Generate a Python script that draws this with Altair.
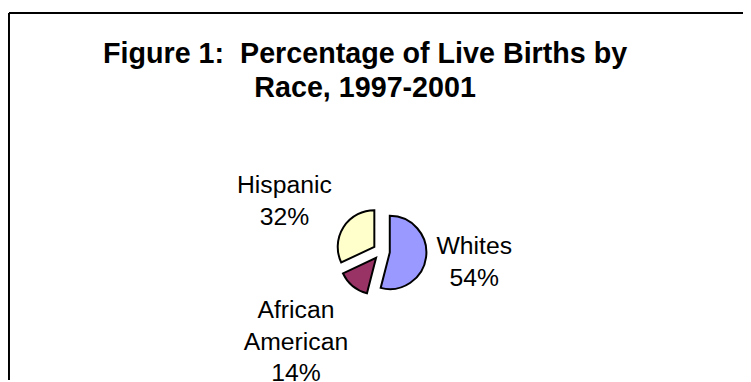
import altair as alt
import pandas as pd

categories = ["Whites", "African American", "Hispanic"]
values = [54, 14, 32]
colors = ["#9999FF", "#993366", "#FFFFCC"]
title_lines = ["Figure 1:\u00a0 Percentage of Live Births by", "Race, 1997-2001"]

df = pd.DataFrame({"category": categories, "value": values,
                   "order": list(range(len(categories)))})

W, H = 742, 371            # view size (page is 751x382 with 8px margin)
CX, CY = 376.5, 241.0      # pie centre (view coords)
EXPLODE = 8.5              # explosion distance
R = 37                     # pie radius
LABEL_R = 48
FS = 25
LH = 32

base = alt.Chart(df).transform_window(
    cum="sum(value)", sort=[alt.SortField("order")], frame=[None, 0]
).transform_joinaggregate(
    total="sum(value)"
).transform_calculate(
    t1="2*PI*datum.cum/datum.total",
    t0="2*PI*(datum.cum-datum.value)/datum.total",
).transform_calculate(
    mid="(datum.t0+datum.t1)/2"
).transform_calculate(
    ux="sin(datum.mid)", uy="-cos(datum.mid)"
).transform_calculate(
    ax=f"{CX}+{EXPLODE}*datum.ux", ay=f"{CY}+{EXPLODE}*datum.uy"
)

pie = base.mark_arc(outerRadius=R, stroke="black", strokeWidth=2).encode(
    x=alt.X("ax:Q", scale=None),
    y=alt.Y("ay:Q", scale=None),
    theta=alt.Theta("t0:Q", scale=None, stack=None),
    theta2="t1:Q",
    color=alt.Color("category:N", scale=alt.Scale(domain=categories, range=colors), legend=None),
)

labels = base.transform_calculate(
    lines="replace(datum.category, ' ', '\\n') + '\\n' + datum.value + '%'",
    sp="indexof(datum.category, ' ')",
).transform_calculate(
    maxlen="datum.sp < 0 ? length(datum.category) : max(datum.sp, length(datum.category) - datum.sp - 1)",
    nlines="datum.sp < 0 ? 2 : 3",
).transform_calculate(
    px=f"datum.ax + {LABEL_R}*datum.ux",
    py=f"datum.ay + {LABEL_R}*datum.uy",
).transform_calculate(
    lx=f"datum.px + datum.maxlen*{FS*0.252}*(datum.ux<0?-1:1)",
    ly=(f"datum.py + datum.nlines*{LH}/2*datum.uy/max(abs(datum.ux),abs(datum.uy))"
        f" - (datum.nlines-1)*{LH}/2"),
).mark_text(
    fontSize=FS, lineHeight=LH, font="Liberation Sans", align="center",
    baseline="middle", color="black", lineBreak="\n"
).encode(
    x=alt.X("lx:Q", scale=None),
    y=alt.Y("ly:Q", scale=None),
    text="lines:N",
)

one = pd.DataFrame({"t": [0]})

title = alt.Chart(one).mark_text(
    text=title_lines, fontSize=29, fontWeight="bold", font="Liberation Sans",
    lineHeight=34, align="center", baseline="alphabetic", color="black"
).encode(x=alt.value(360), y=alt.value(51))

# chart-area border (only its top and left edges fall inside the window)
border_top = alt.Chart(one).mark_rule(color="black", strokeWidth=2).encode(
    x=alt.value(0), x2=alt.value(W), y=alt.value(0))
border_left = alt.Chart(one).mark_rule(color="black", strokeWidth=2).encode(
    x=alt.value(0), y=alt.value(0), y2=alt.value(H))

chart = alt.layer(border_top, border_left, pie, labels, title).properties(
    width=W, height=H,
    autosize=alt.AutoSizeParams(type="none"),
    padding={"left": 1, "top": 3, "right": 0, "bottom": 0},
).configure_view(stroke=None)

chart.save("out.html", embed_options={"renderer": "svg", "actions": False})
